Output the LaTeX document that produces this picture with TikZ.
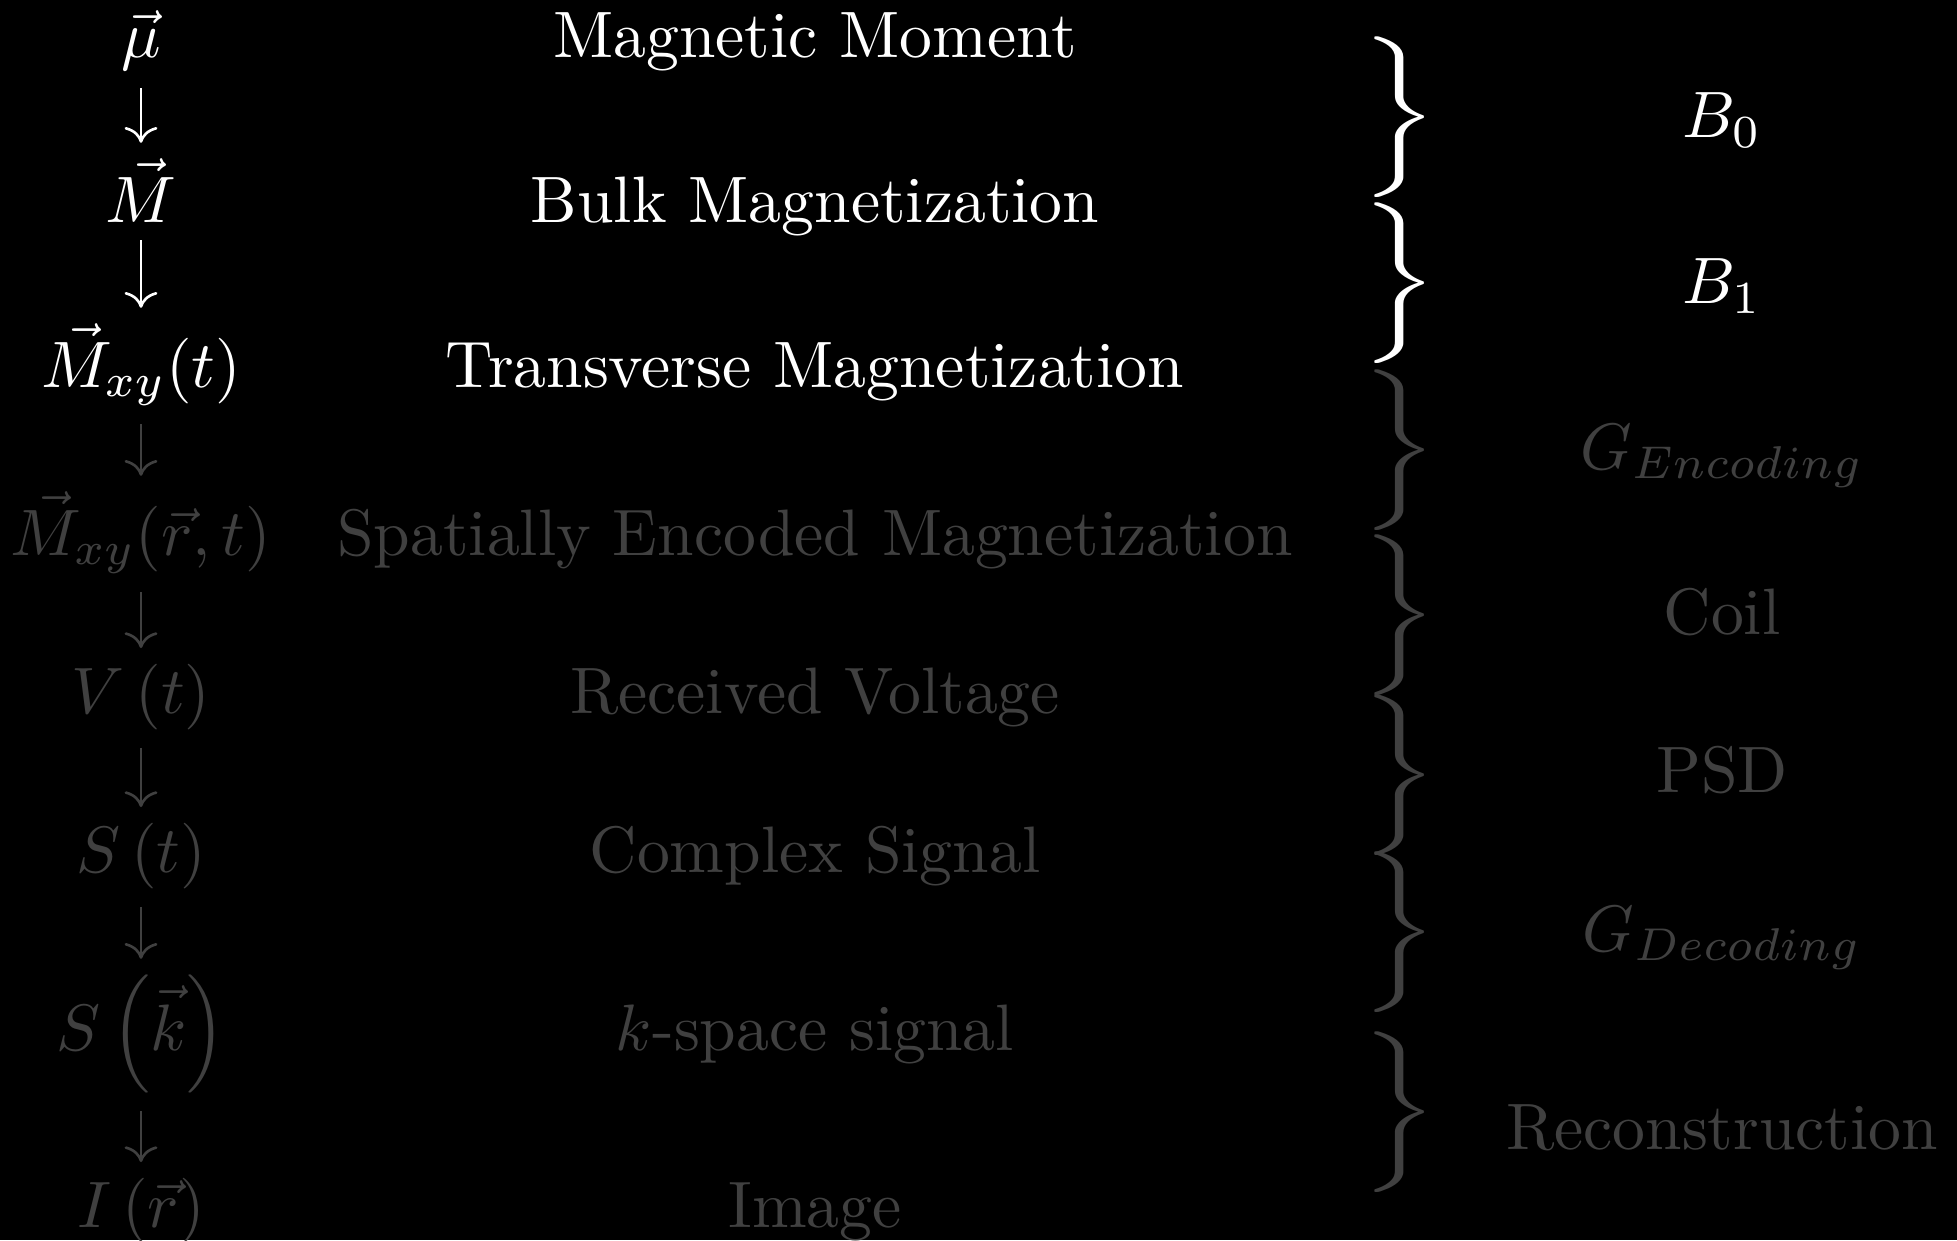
\documentclass[tikz,border=0pt]{standalone}
\usepackage{amsmath}
\usepackage{graphicx}
\usepackage{tikz}
\usetikzlibrary{arrows.meta, backgrounds}

\definecolor{dimgray}{gray}{0.25}

\begin{document}
\begin{tikzpicture}[x=0.15228pt, y=-0.15228pt, inner sep=0pt,
    flow/.style={line width=0.4pt, -{Computer Modern Rightarrow[length=2.4pt, width=5pt]}, shorten <=2.6pt, shorten >=2.2pt}]
    % 背景与边界
    \fill[black] (0,0) rectangle (1957,1240);
    \useasboundingbox (0,0) rectangle (1957,1240);

    % --- 宏：一行（左侧符号 + 中间名称） ---
    \newcommand{\rowitem}[5]{
        % #1 节点名, #2 基线 y, #3 颜色, #4 符号, #5 名称
        \node[anchor=base, text=#3] (sym#1) at (141,#2) {#4};
        \node[anchor=base, text=#3] (name#1) at (815,#2) {#5};
    }

    % --- 宏：右侧花括号与标签 ---
    \newcommand{\stage}[5]{
        % #1 节点名, #2 尖端 y, #3 标签 y, #4 颜色, #5 标签
        \node[text=#4] (brace#1) at (1400,#2) {\scalebox{1.55}[1.02]{$\biggr\}$}};
        \node[text=#4] (lab#1) at (1722,#3) {#5};
    }

    % --- 左侧与中间两列 ---
    \rowitem{mu}{57}{white}{$\vec{\mu}$}{Magnetic Moment}
    \rowitem{M}{222}{white}{$\vec{M}$}{Bulk Magnetization}
    \rowitem{Mt}{387}{white}{$\vec{M}_{xy}(t)$}{Transverse Magnetization}
    \rowitem{Mrt}{555}{dimgray}{$\vec{M}_{xy}(\vec{r},t)$}{Spatially Encoded Magnetization}
    \rowitem{V}{713}{dimgray}{$V\left(t\right)$}{Received Voltage}
    \rowitem{S}{872}{dimgray}{$S\left(t\right)$}{Complex Signal}
    \rowitem{Sk}{1050}{dimgray}{$S\left(\vec{k}\right)$}{$k$-space signal}
    \rowitem{I}{1227}{dimgray}{$I\left(\vec{r}\right)$}{Image}

    % 箭头：从上一个符号指向下一个
    \foreach \a/\b/\c in {mu/M/white, M/Mt/white, Mt/Mrt/dimgray, Mrt/V/dimgray,
                          V/S/dimgray, S/Sk/dimgray, Sk/I/dimgray}
        \draw[flow, \c] (sym\a.south) -- (sym\b.north);

    % --- 右侧一列 ---
    \stage{Bz}{117}{120}{white}{$B_0$}
    \stage{Bo}{283}{286}{white}{$B_1$}
    \stage{Ge}{450}{456}{dimgray}{$G_{Encoding}$}
    \stage{Coil}{615}{612}{dimgray}{Coil}
    \stage{PSD}{775}{770}{dimgray}{PSD}
    \stage{Gd}{932}{938}{dimgray}{$G_{Decoding}$}
    \stage{Rec}{1112}{1128}{dimgray}{Reconstruction}
\end{tikzpicture}
\end{document}
